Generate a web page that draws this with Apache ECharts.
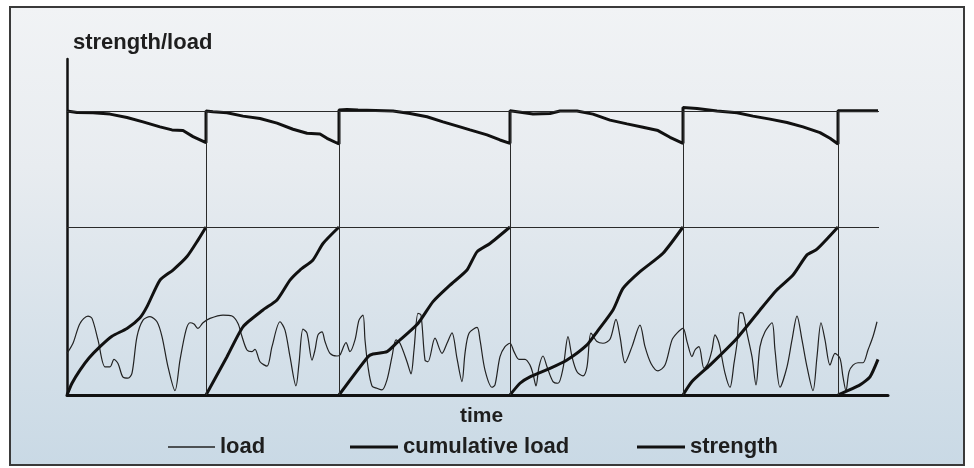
<!DOCTYPE html>
<html>
<head>
<meta charset="utf-8">
<script src="https://cdn.jsdelivr.net/npm/echarts@6/dist/echarts.min.js"></script>
<style>
html,body{margin:0;padding:0;background:#fff;}
#chart{width:974px;height:468px;}
</style>
</head>
<body>
<div id="chart"></div>
<script>
// ---- data (time in arbitrary units, strength/load in arbitrary units) ----
const cycleBoundaries = [13.9, 27.2, 44.3, 61.6, 77.1];
const initialStrength = 84.5;
const failureLevel = 50;
const timeEnd = 81.2;

const loadPoints = [
 [0,12.4],[0.6,15.4],[1.3,21.3],[2.1,23.5],[2.5,22.8],[3.1,16.4],[3.8,8.4],[4.3,8.4],[4.7,10.6],[5.1,9.4],[5.6,5.3],[6.1,5.0],[6.5,6.5],[7.0,17.4],[7.6,22.3],[8.3,23.3],[9.0,21.8],[9.5,17.4],[10.1,8.4],[10.8,1.3],[11.3,10.4],[11.9,19.3],[12.3,21.5],[12.7,21.1],[13.1,19.8],[13.6,21.5],[14.3,22.8],[15.6,23.8],[16.5,23.5],[17.1,21.3],[17.5,17.4],[18.0,13.4],[18.5,12.9],[18.8,13.6],[19.3,9.9],[20.0,8.6],[20.5,14.4],[21.3,21.8],[21.8,19.3],[22.3,11.4],[22.9,2.7],[23.2,9.4],[23.6,19.6],[24.0,18.4],[24.5,10.4],[24.8,13.4],[25.1,17.9],[25.5,18.8],[25.8,15.9],[26.3,12.4],[27.0,11.6],[27.3,11.9],[27.9,15.6],[28.3,12.9],[28.8,16.4],[29.2,22.3],[29.6,23.8],[29.8,16.4],[30.1,8.4],[30.5,2.7],[31.0,2.0],[31.5,1.5],[32.0,4.5],[32.5,11.4],[32.9,16.4],[33.3,15.4],[34.0,9.9],[34.4,6.3],[34.7,13.4],[35.1,24.3],[35.4,23.8],[35.8,10.4],[36.1,9.9],[36.8,16.9],[37.5,12.4],[38.0,15.4],[38.5,18.5],[39.0,10.9],[39.5,4.0],[39.8,12.4],[40.2,18.4],[41.0,20.1],[41.3,16.4],[41.8,7.4],[42.5,2.3],[42.8,3.0],[43.3,11.4],[43.8,14.4],[44.3,15.4],[44.7,12.9],[45.2,10.6],[45.8,10.6],[46.3,8.9],[46.6,6.3],[46.9,2.7],[47.2,8.4],[47.6,11.6],[48.0,8.4],[48.6,4.0],[49.1,3.5],[49.6,7.9],[50.1,17.4],[50.5,11.4],[51.0,6.9],[51.6,5.7],[52.0,8.4],[52.4,18.4],[53.0,15.9],[53.6,15.4],[54.3,16.6],[54.9,22.5],[55.3,17.4],[55.8,9.6],[56.5,14.4],[57.3,20.8],[57.8,14.4],[58.4,9.4],[59.1,7.2],[59.8,8.9],[60.5,16.4],[61.0,18.4],[61.6,19.8],[62.0,15.9],[62.5,11.4],[62.8,13.4],[63.2,14.4],[63.7,7.9],[64.1,9.4],[64.5,13.4],[64.8,17.9],[65.2,15.4],[65.8,6.5],[66.3,2.3],[66.7,9.4],[67.0,15.4],[67.3,24.5],[67.6,24.3],[68.0,18.4],[68.5,11.4],[68.9,3.0],[69.3,14.4],[69.8,18.8],[70.5,21.5],[70.8,13.4],[71.3,2.3],[72.0,8.4],[72.5,16.4],[73.0,23.5],[73.5,16.4],[74.0,8.4],[74.6,1.3],[75.0,11.4],[75.4,21.5],[75.8,16.4],[76.3,8.9],[76.8,12.4],[77.3,10.9],[77.6,5.4],[77.9,1.3],[78.2,6.9],[78.6,8.9],[79.1,9.6],[79.6,9.6],[80.1,13.4],[80.6,17.4],[81.0,21.8]
];

const cumulativeCycle1 = [[0,0],[0.5,3.5],[1.3,7.4],[2.2,11.0],[3.3,14.4],[4.5,17.5],[6.0,19.8],[7.3,23.0],[8.0,26.3],[9.3,34.2],[10.6,37.2],[12.0,41.2],[13.1,46.1],[13.9,50]];
const cumulativeCycle2 = [[13.9,0],[16.0,11.4],[17.6,20.3],[19.6,25.3],[21.0,28.3],[22.3,34.2],[23.3,37.2],[24.6,40.2],[25.6,45.1],[27.2,50]];
const cumulativeCycle3 = [[27.2,0],[30.1,11.4],[30.6,12.2],[32.0,12.9],[33.0,15.6],[35.1,21.3],[36.6,27.8],[38.3,32.7],[40.0,37.2],[41.0,42.6],[42.3,45.1],[44.3,50]];
const cumulativeCycle4 = [[44.3,0],[45.3,3.5],[46.3,5.4],[48.3,7.9],[50.0,10.4],[52.0,14.9],[53.0,18.8],[54.6,25.3],[55.6,31.7],[57.3,36.7],[59.6,42.2],[61.6,50]];
const cumulativeCycle5 = [[61.6,0],[62.5,4.0],[64.3,8.9],[67.0,16.9],[69.3,25.3],[71.0,31.3],[72.6,35.7],[74.0,41.7],[75.0,43.4],[77.1,50]];
const cumulativeCycle6 = [[77.1,0],[79.3,3.0],[80.3,5.4],[81.1,10.6]];

const strengthPoints = [
 [0,84.5],[1.0,84.1],[2.6,84.0],[4.3,83.6],[6.0,82.6],[7.6,81.3],[9.3,79.8],[10.5,78.9],[11.6,78.7],[12.6,76.9],[13.9,75.1],
 [13.9,84.5],[14.6,84.3],[16.0,84.0],[17.6,83.0],[19.3,82.3],[21.0,80.9],[22.6,79.1],[24.0,77.9],[25.3,77.7],[26.0,76.4],[27.2,74.7],
 [27.2,84.8],[28.0,85.0],[29.1,84.8],[32.6,84.5],[34.3,83.8],[36.0,82.8],[37.6,81.3],[39.3,79.8],[40.3,78.9],[42.0,77.4],[43.3,75.9],[44.3,74.9],
 [44.3,84.6],[45.0,84.3],[46.6,83.6],[48.3,83.8],[49.3,84.5],[51.0,84.5],[52.6,83.6],[54.3,81.8],[56.0,80.7],[57.6,79.7],[59.1,78.7],[60.3,76.7],[61.6,74.9],
 [61.6,85.6],[63.0,85.3],[65.0,84.5],[67.0,84.0],[68.6,83.0],[70.3,82.1],[72.0,81.1],[73.6,79.8],[75.3,78.1],[76.3,76.4],[77.1,74.7],
 [77.1,84.6],[81.1,84.6]
];

// ---- build ----
const cumulativeCycles = [cumulativeCycle1, cumulativeCycle2, cumulativeCycle3, cumulativeCycle4, cumulativeCycle5, cumulativeCycle6];
const cumulativeData = [];
cumulativeCycles.forEach((c, i) => {
  if (i > 0) cumulativeData.push([c[0][0], null]);
  c.forEach(p => cumulativeData.push(p));
});

const refLines = [
  [{coord: [0, initialStrength]}, {coord: [timeEnd, initialStrength]}],
  [{coord: [0, failureLevel]}, {coord: [timeEnd, failureLevel]}]
].concat(cycleBoundaries.map(t => [{coord: [t, 0]}, {coord: [t, initialStrength]}]));

const FONT = "'Liberation Sans', Arial, sans-serif";
const TXT = '#1e1e1e';
const legendText = {fontFamily: FONT, fontWeight: 'bold', fontSize: 22, color: TXT};

const chart = echarts.init(document.getElementById('chart'), null, {renderer: 'canvas'});
chart.setOption({
  animation: false,
  backgroundColor: '#ffffff',
  graphic: [{
    type: 'rect', z: -10, silent: true,
    shape: {x: 10, y: 7, width: 954, height: 458},
    style: {
      fill: {type: 'linear', x: 0, y: 0, x2: 0, y2: 1, colorStops: [
        {offset: 0, color: '#f1f3f5'}, {offset: 0.35, color: '#e8ecf0'}, {offset: 1, color: '#c9d9e5'}]},
      stroke: '#3a3a3a', lineWidth: 2
    }
  }],
  grid: {left: 67, right: 86, top: 59, bottom: 73, containLabel: false},
  xAxis: {
    type: 'value', min: 0, max: 82.1,
    name: 'time', nameLocation: 'middle', nameGap: 11,
    nameTextStyle: {fontFamily: FONT, fontWeight: 'bold', fontSize: 21, color: TXT, padding: [0, 0, 0, 8]},
    axisLine: {show: true, lineStyle: {color: '#111', width: 3}},
    axisTick: {show: false}, axisLabel: {show: false}, splitLine: {show: false}
  },
  yAxis: {
    type: 'value', min: 0, max: 100,
    name: 'strength/load', nameLocation: 'end', nameGap: 5,
    nameTextStyle: {fontFamily: FONT, fontWeight: 'bold', fontSize: 22, color: TXT, align: 'left', padding: [0, 0, 0, 6]},
    axisLine: {show: true, lineStyle: {color: '#111', width: 2.5}},
    axisTick: {show: false}, axisLabel: {show: false}, splitLine: {show: false}
  },
  legend: [
    {data: [{name: 'load', icon: 'rect'}], left: 168, top: 436, padding: 0, itemWidth: 47, itemHeight: 1.3,
     itemStyle: {color: '#222'}, textStyle: legendText},
    {data: [{name: 'cumulative load', icon: 'rect'}], left: 350, top: 436, padding: 0, itemWidth: 48, itemHeight: 3,
     itemStyle: {color: '#111'}, textStyle: legendText},
    {data: [{name: 'strength', icon: 'rect'}], left: 637, top: 436, padding: 0, itemWidth: 48, itemHeight: 3,
     itemStyle: {color: '#111'}, textStyle: legendText}
  ],
  series: [
    {
      name: 'reference', type: 'line', data: [], silent: true,
      markLine: {silent: true, symbol: 'none', label: {show: false},
        lineStyle: {color: '#2a2a2a', width: 1, type: 'solid'}, data: refLines}
    },
    {
      name: 'load', type: 'line', data: loadPoints, symbol: 'none', smooth: 0.3,
      lineStyle: {color: '#222', width: 1.2}, itemStyle: {color: '#222'}
    },
    {
      name: 'cumulative load', type: 'line', data: cumulativeData, symbol: 'none', smooth: 0.2,
      connectNulls: false,
      lineStyle: {color: '#111', width: 3}, itemStyle: {color: '#111'}
    },
    {
      name: 'strength', type: 'line', data: strengthPoints, symbol: 'none',
      lineStyle: {color: '#111', width: 3}, itemStyle: {color: '#111'}
    }
  ]
});
</script>
</body>
</html>
